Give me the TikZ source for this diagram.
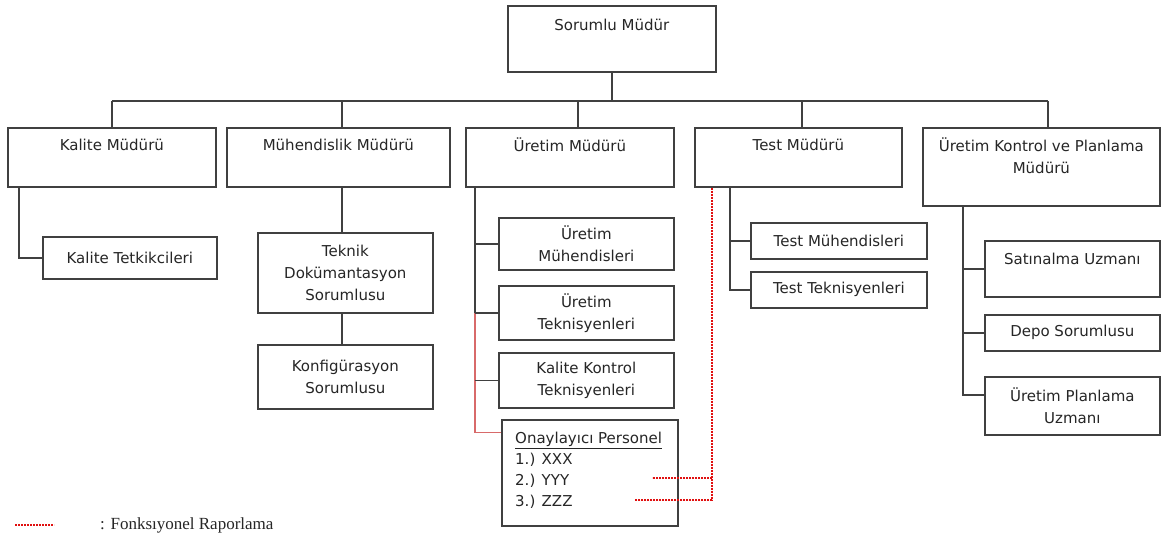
\documentclass[tikz,border=0pt]{standalone}
\usepackage{fontspec}
\setmainfont{DejaVu Sans}
\newfontfamily\legendfont{Liberation Serif}
\usetikzlibrary{calc}
\definecolor{ink}{HTML}{262626}
\definecolor{edge}{HTML}{404040}
\definecolor{fnred}{HTML}{E01010}
\definecolor{softred}{HTML}{D86A6A}
\begin{document}
\begin{tikzpicture}[x=1pt,y=-1pt,
  box/.style={draw=edge, line width=1.7pt, rectangle, inner sep=0pt, anchor=north west,
    text=ink, align=center, font=\fontsize{15}{22}\selectfont},
  lbl/.style={inner sep=0pt, text=ink, align=center, font=\fontsize{15}{22}\selectfont},
  oline/.style={inner sep=0pt, text=ink, anchor=base west, font=\fontsize{15}{21}\selectfont},
  conn/.style={draw=edge, line width=1.7pt},
  funcline/.style={draw=fnred, line width=2.8pt, dash pattern=on 2pt off 1pt},
  approve/.style={draw=softred, line width=1.2pt}]

\useasboundingbox[fill=white] (0,0) rectangle (1161,535);

% top
\node[box, minimum width=208, minimum height=66] (sm) at (507,5) {};
\node[lbl] (smT) at ($(sm.north)+(0,20)$) {Sorumlu Müdür};

% managers
\node[box, minimum width=208, minimum height=59] (km) at (7,127) {};
\node[box, minimum width=223, minimum height=59] (mm) at (226,127) {};
\node[box, minimum width=208, minimum height=59] (um) at (465,127) {};
\node[box, minimum width=207, minimum height=59] (tm) at (694,127) {};
\node[box, minimum width=237, minimum height=78] (ukp) at (922,127) {};
\node[lbl] (kmT) at ($(km.north)+(0,18)$) {Kalite Müdürü};
\node[lbl] (mmT) at ($(mm.north)+(0,18)$) {Mühendislik Müdürü};
\node[lbl] (umT) at ($(um.north)+(0,18)$) {Üretim Müdürü};
\node[lbl] (tmT) at ($(tm.north)+(0,18)$) {Test Müdürü};
\node[lbl] (ukpT) at ($(ukp.north)+(0,29)$) {Üretim Kontrol ve Planlama\\Müdürü};

% bus from the top box to the managers
\coordinate (bus) at (0,101);
\path (km.north) coordinate (kmTop)
      ([xshift=3.5pt]mm.north) coordinate (mmTop)
      ([xshift=8pt]um.north) coordinate (umTop)
      ([xshift=3.5pt]tm.north) coordinate (tmTop)
      ([xshift=6.5pt]ukp.north) coordinate (ukpTop);
\draw[conn] (sm.south) -- (sm.south |- bus);
\draw[conn] (kmTop |- bus) -- (ukpTop |- bus);
\foreach \t in {kmTop,mmTop,umTop,tmTop,ukpTop}
  \draw[conn] (\t |- bus) -- (\t);

% quality
\node[box, minimum width=174, minimum height=42] (kt) at (42,236) {Kalite Tetkikcileri};
\path ([xshift=12pt]km.south west) coordinate (kmFoot);
\draw[conn] (kmFoot) |- (kt.west);

% engineering
\node[box, minimum width=175, minimum height=80] (td) at (257,232) {Teknik\\Dokümantasyon\\Sorumlusu};
\node[box, minimum width=175, minimum height=64] (ks) at (257,344) {Konfigürasyon\\Sorumlusu};
\path ([xshift=3.5pt]mm.south) coordinate (mmFoot);
\draw[conn] (mmFoot) -- (mmFoot |- td.north);
\draw[conn] (mmFoot |- td.south) -- (mmFoot |- ks.north);

% production
\node[box, minimum width=175, minimum height=52] (umh) at (498,217) {Üretim\\Mühendisleri};
\node[box, minimum width=175, minimum height=54] (ut) at (498,285) {Üretim\\Teknisyenleri};
\node[box, minimum width=175, minimum height=55] (kk) at (498,352) {Kalite Kontrol\\Teknisyenleri};
\node[box, minimum width=176, minimum height=106] (op) at (501,419) {};
\node[oline] (op1) at (515,443.5) {\underline{Onaylayıcı Personel}};
\node[oline] (op2) at (515,464.5) {1.) XXX};
\node[oline] (op3) at (515,485.5) {2.) YYY};
\node[oline] (op4) at (515,506.5) {3.) ZZZ};
\path ([xshift=10pt]um.south west) coordinate (umFoot)
      ([yshift=40pt]op.west) coordinate (opIn);
\draw[approve] (umFoot |- ut.west) |- (opIn);
\draw[conn] (umFoot) -- (umFoot |- ut.west);
\draw[conn] (umFoot |- umh.west) -- (umh.west);
\draw[conn] (umFoot |- ut.west) -- (ut.west);
\draw[conn] (umFoot |- kk.west) -- (kk.west);

% test
\node[box, minimum width=176, minimum height=36] (tmh) at (750,222) {Test Mühendisleri};
\node[box, minimum width=176, minimum height=36] (tt) at (750,271) {Test Teknisyenleri};
\path ([xshift=36pt]tm.south west) coordinate (tmFoot);
\draw[conn] (tmFoot) |- (tt.west);
\draw[conn] (tmFoot |- tmh.west) -- (tmh.west);

% planning
\node[box, minimum width=175, minimum height=56] (sa) at (984,240) {};
\node[lbl] (saT) at ($(sa.north)+(0,19)$) {Satınalma Uzmanı};
\node[box, minimum width=175, minimum height=36] (dp) at (984,314) {Depo Sorumlusu};
\node[box, minimum width=175, minimum height=58] (up) at (984,376) {Üretim Planlama\\Uzmanı};
\path ([xshift=41pt]ukp.south west) coordinate (ukFoot)
      ([yshift=11pt]up.west) coordinate (upIn);
\draw[conn] (ukFoot) |- (upIn);
\draw[conn] (ukFoot |- sa.west) -- (sa.west);
\draw[conn] (ukFoot |- dp.west) -- (dp.west);

% functional reporting
\path ([xshift=18pt]tm.south west) coordinate (tmFn);
\coordinate (fnY) at (652,478);
\coordinate (fnZ) at (635,500);
\draw[funcline] (tmFn) |- (fnZ);
\draw[funcline] (tmFn |- fnY) -- (fnY);

% legend
\coordinate (lgA) at (15,525);
\coordinate (lgB) at (54,525);
\draw[funcline, line width=2.2pt] (lgA) -- (lgB);
\node[inner sep=0pt, anchor=west, text=ink, font=\legendfont\fontsize{17}{18}\selectfont] (lgT) at (100,525) {: Fonksıyonel Raporlama};
\end{tikzpicture}
\end{document}
